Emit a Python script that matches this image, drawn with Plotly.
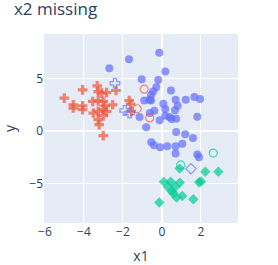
import plotly.graph_objects as go

# Class 0 (cross), predicted 0 (red)
c0_ok_x = [-5.01, -4.55, -4.55, -4.07, -4.07, -4.07, -3.32, -3.27, -3.09, -2.84, -2.36,
           -3.55, -3.27, -3.01, -2.92, -2.53, -3.01, -2.84, -3.52, -3.27, -3.01, -3.27,
           -3.22, -3.01, -1.68, -1.61, -1.57]
c0_ok_y = [3.16, 2.52, 2.21, 3.95, 2.43, 2.05, 4.33, 3.79, 3.64, 3.70, 3.89,
           2.84, 2.90, 2.84, 2.43, 2.52, 2.05, 1.89, 1.73, 1.89, 1.48, 1.10,
           0.62, -0.43, 2.93, 2.59, 1.89]
# Class 0, predicted 1 (open blue cross)
c0_bad_x = [-2.41, -1.91, -1.66]
c0_bad_y = [4.59, 1.98, 1.73]

# Class 1 (circle), predicted 1 (blue)
c1_ok_x = [-2.70, -1.69, -0.14, 0.17, -1.04, -0.19, -0.29, -0.45, -0.56, -0.56, -0.91,
           0.46, 0.70, 1.22, 1.66, 1.95, 0.07, 0.17, 0.81, 0.67, -0.39, -0.62, -0.12,
           0.17, 0.39, 0.49, 0.73, 1.81, -1.15, -0.81, 0.73, 1.19, 1.59, -0.55, -0.41,
           -0.09, 0.27, 0.70, 1.04, 0.70, 1.81, 1.90, -0.63]
c1_ok_y = [6.02, 6.88, 7.50, 5.70, 4.97, 4.90, 4.21, 3.79, 3.45, 2.93, 2.93,
           3.89, 3.00, 3.00, 3.26, 3.07, 2.62, 2.11, 2.43, 2.00, 1.95, 1.73, 1.03,
           1.48, 1.35, 1.16, 1.19, 1.38, 1.35, 0.38, -0.08, -0.30, -0.65, -1.07, -1.35,
           -1.54, -1.45, -1.45, -1.22, -2.14, -2.24, -2.50, 3.00]
# Class 1, predicted 0 (open red circle)
c1_to0_x = [-0.91, -1.27, -0.63]
c1_to0_y = [4.02, 2.14, 1.26]
# Class 1, predicted 2 (open green circle)
c1_to2_x = [2.63, 0.96]
c1_to2_y = [-2.10, -3.24]

# Class 2 (diamond), predicted 2 (green)
c2_ok_x = [0.91, 2.22, 2.89, 0.10, 0.45, 0.92, 0.31, 0.69, 0.50, 0.58, 2.00, 1.90,
           0.75, 1.04, 1.61, -0.14]
c2_ok_y = [-3.59, -3.89, -3.89, -4.86, -4.84, -4.93, -5.35, -5.33, -5.76, -5.95, -4.83,
           -4.90, -6.36, -6.21, -6.52, -6.84]
# Class 2, predicted 1 (open blue diamond)
c2_bad_x = [1.49]
c2_bad_y = [-3.60]

RED, BLUE, GREEN = "#EF553B", "#636EFA", "#00CC96"

groups = [
    (c0_ok_x, c0_ok_y, "cross", RED),
    (c0_bad_x, c0_bad_y, "cross-open", BLUE),
    (c1_ok_x, c1_ok_y, "circle", BLUE),
    (c1_to0_x, c1_to0_y, "circle-open", RED),
    (c1_to2_x, c1_to2_y, "circle-open", GREEN),
    (c2_ok_x, c2_ok_y, "diamond", GREEN),
    (c2_bad_x, c2_bad_y, "diamond-open", BLUE),
]

fig = go.Figure()
for gx, gy, sym, col in groups:
    fig.add_trace(go.Scatter(
        x=gx, y=gy, mode="markers", showlegend=False,
        marker=dict(symbol=sym, color=col, size=8, opacity=0.7,
                    line=dict(width=1.2) if sym.endswith("open") else dict(width=0)),
    ))

fig.update_layout(
    width=278, height=265,
    template="plotly",
    title=dict(text="x2 missing", x=0.05, y=0.99, yanchor="top", automargin=False),
    margin=dict(l=44, r=40, t=34, b=42, autoexpand=False),
    xaxis=dict(title=dict(text="x1"), range=[-6.05, 3.9], automargin=False),
    yaxis=dict(title=dict(text="y", standoff=18), range=[-8.8, 9.3], automargin=False),
)
fig.write_html("out.html",
               config={"displayModeBar": False},
               post_script="document.body.style.margin='0';document.body.style.overflow='hidden';")
